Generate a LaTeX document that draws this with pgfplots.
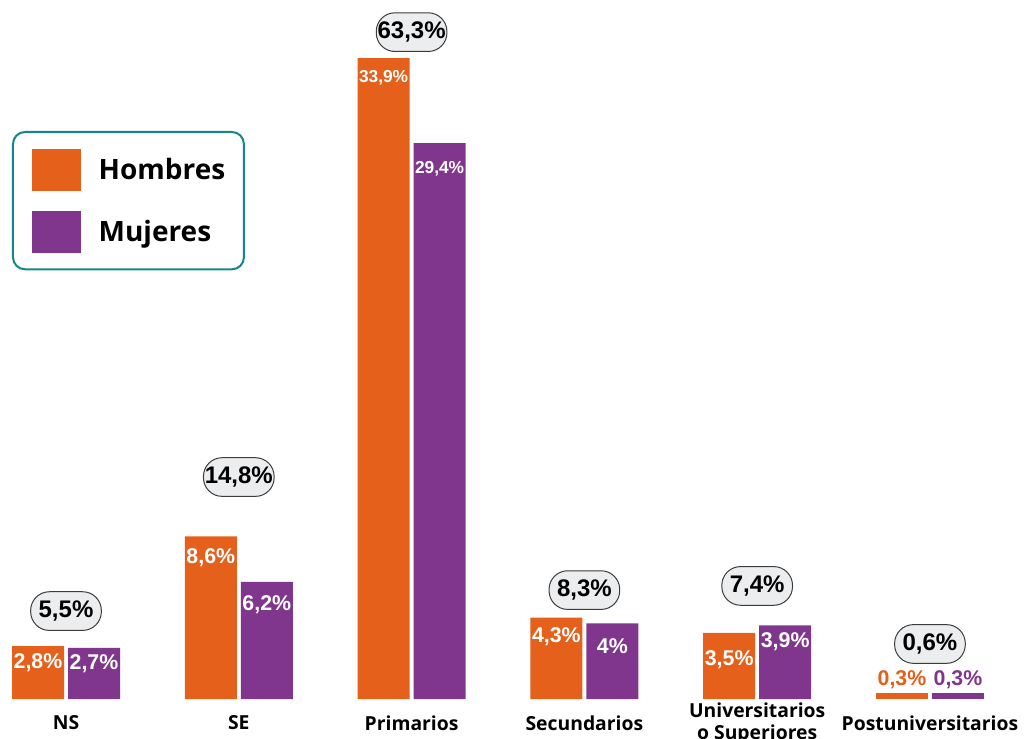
\documentclass[border=0pt]{standalone}
\usepackage{pgfplots}
\pgfplotsset{compat=1.18}
\usepackage{pgfplotstable}
\usepackage{fontspec}
\setmainfont{Open Sans}
\newfontfamily\numfont{Liberation Sans}
\definecolor{hom}{HTML}{E5601A}
\definecolor{muj}{HTML}{7F368C}
\definecolor{leg}{HTML}{14878C}
\definecolor{boxfill}{HTML}{ECEDEF}
\definecolor{boxdraw}{HTML}{3C3C3C}

\pgfplotstableread{
x y lab dy fs
0 2.8 2,8 -12.75 16
1 8.6 8,6 -15.75 16
2 33.9 33,9 -15 13
3 4.3 4,3 -14.25 16
4 3.5 3,5 -20.25 16
}\hombres

\pgfplotstableread{
x y lab dy fs
0 2.7 2,7 -12 16
1 6.2 6,2 -17.25 16
2 29.4 29,4 -19.5 13
3 4.0 4 -17.25 16
4 3.9 3,9 -12 16
}\mujeres

\pgfplotstableread{
x y lab
5 0.3 0,3
}\hombrespost

\pgfplotstableread{
x y lab
5 0.3 0,3
}\mujerespost

\pgfplotstableread{
x y lab
0 4.65 5,5
1 11.74 14,8
2 35.27 63,3
3 5.76 8,3
4 5.98 7,4
5 2.91 0,6
}\totales

\pgfplotsset{
  barlab/.style={
    point meta=explicit symbolic,
    nodes near coords={\pgfplotspointmeta\%},
    visualization depends on={\thisrow{dy} \as \dy},
    visualization depends on={\thisrow{fs} \as \fs},
    nodes near coords style={anchor=center, xshift=#1, yshift=\dy pt, text=white, inner sep=0pt,
       font=\numfont\bfseries\fontsize{\fs}{\fs}\selectfont}},
  postlab/.style 2 args={
    point meta=explicit symbolic,
    nodes near coords={\pgfplotspointmeta\%},
    nodes near coords style={anchor=center, xshift=#2, yshift=10.5pt, text=#1, inner sep=0pt,
       font=\numfont\bfseries\fontsize{16}{16}\selectfont}},
}

\begin{document}
\begin{tikzpicture}
\useasboundingbox (0,0) rectangle (768.75pt,554.25pt);
\clip (0,0) rectangle (768.75pt,554.25pt);
\begin{axis}[
  at={(0pt,30pt)}, anchor=south west,
  scale only axis, width=768.75pt, height=524.25pt,
  xmin=-0.382, xmax=5.55, ymin=0, ymax=36.97,
  axis x line=bottom, axis y line=left,
  axis line style={draw=none},
  ytick=\empty,
  xtick={0,1,2,3,4,5},
  major tick length=0pt,
  xticklabels={NS,SE,Primarios,Secundarios,{Universitarios\\o Superiores},Postuniversitarios},
  xticklabel style={anchor=center, yshift=-18pt, align=center, text=black,
     font=\bfseries\fontsize{14.5}{16.5}\selectfont},
  clip=false,
  legend cell align=left,
  legend style={at={(axis description cs:0.0117,0.8126)}, anchor=north west,
     draw=leg, line width=1.5pt, rounded corners=9pt,
     inner xsep=14pt, inner ysep=12.5pt, row sep=15pt, column sep=13.5pt,
     nodes={inner sep=0pt},
     font=\bfseries\fontsize{21}{21}\selectfont},
]
\addplot[ybar, bar width=39pt, bar shift=-21pt, fill=hom, draw=none, barlab=-21pt,
  legend image code/.code={\fill[hom, sharp corners] (0pt,-15.75pt) rectangle (36.75pt,15.75pt);}
] table[x=x, y=y, meta=lab] {\hombres};
\addlegendentry{Hombres}
\addplot[ybar, bar width=39pt, bar shift=21pt, fill=muj, draw=none, barlab=21pt,
  legend image code/.code={\fill[muj, sharp corners] (0pt,-15.75pt) rectangle (36.75pt,15.75pt);}
] table[x=x, y=y, meta=lab] {\mujeres};
\addlegendentry{Mujeres}
\addplot[ybar, bar width=39pt, bar shift=-21pt, fill=hom, draw=none, forget plot, postlab={hom}{-21pt}]
  table[x=x, y=y, meta=lab] {\hombrespost};
\addplot[ybar, bar width=39pt, bar shift=21pt, fill=muj, draw=none, forget plot, postlab={muj}{21pt}]
  table[x=x, y=y, meta=lab] {\mujerespost};
\addplot[draw=none, forget plot,
  point meta=explicit symbolic,
  nodes near coords={\pgfplotspointmeta\%},
  nodes near coords style={anchor=center, draw=boxdraw, fill=boxfill, line width=0.75pt,
     rounded corners=14pt, minimum width=53pt, minimum height=29pt, inner sep=0pt,
     text=black, font=\numfont\bfseries\fontsize{18}{18}\selectfont}
] table[x=x, y=y, meta=lab] {\totales};
\end{axis}
\end{tikzpicture}
\end{document}
